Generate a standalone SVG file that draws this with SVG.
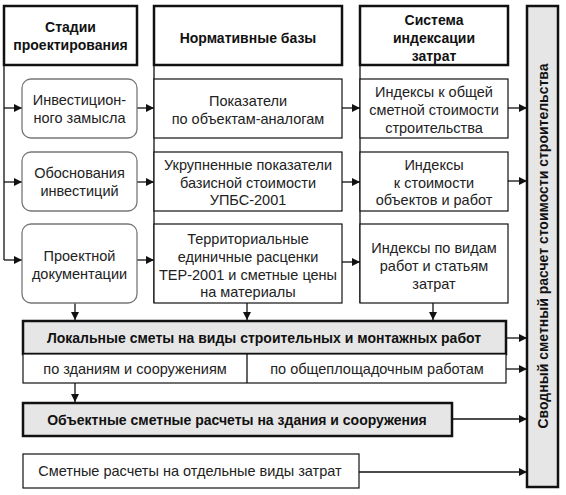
<svg xmlns="http://www.w3.org/2000/svg" width="566" height="495" viewBox="0 0 566 495">
<defs>
<marker id="ah" viewBox="0 0 10 10" refX="10" refY="5" markerWidth="10" markerHeight="8" markerUnits="userSpaceOnUse" orient="auto">
<path d="M0,0 L10,5 L0,10 Z" fill="#111"/>
</marker>
<style>
.thick{fill:#fff;stroke:#111;stroke-width:2.5}
.gray{fill:#e6e6e6;stroke:#111;stroke-width:2.5}
.thin{fill:#fff;stroke:#111;stroke-width:1.2}
.round{fill:#fff;stroke:#777;stroke-width:1.3}
.ln{fill:none;stroke:#111;stroke-width:1.3}
.ar{fill:none;stroke:#111;stroke-width:1.3;marker-end:url(#ah)}
text{font-family:"Liberation Sans",Arial,sans-serif;font-size:14.5px;fill:#222;text-anchor:middle;dominant-baseline:central}
.b{font-weight:bold;font-size:14px;fill:#111}
</style>
</defs>
<rect x="0" y="0" width="566" height="495" fill="#fff"/>

<g id="connectors">
<line class="ln" x1="4" y1="65" x2="4" y2="260"/>
<line class="ln" x1="154" y1="65" x2="154" y2="303"/>
<line class="ln" x1="360" y1="65" x2="360" y2="303"/>
<line class="ar" x1="4" y1="108" x2="22" y2="108"/>
<line class="ar" x1="4" y1="182" x2="22" y2="182"/>
<line class="ar" x1="4" y1="260" x2="22" y2="260"/>
<line class="ar" x1="137" y1="108" x2="154" y2="108"/>
<line class="ar" x1="137" y1="182" x2="154" y2="182"/>
<line class="ar" x1="137" y1="260" x2="154" y2="260"/>
<line class="ar" x1="342" y1="108" x2="360" y2="108"/>
<line class="ar" x1="342" y1="182" x2="360" y2="182"/>
<line class="ar" x1="342" y1="262" x2="360" y2="262"/>
<line class="ar" x1="508" y1="108" x2="527" y2="108"/>
<line class="ar" x1="508" y1="181" x2="527" y2="181"/>
<line class="ar" x1="75" y1="303" x2="75" y2="320"/>
<line class="ar" x1="247" y1="303" x2="247" y2="320"/>
<line class="ar" x1="433" y1="303" x2="433" y2="320"/>
<line class="ar" x1="506" y1="338" x2="527" y2="338"/>
<line class="ar" x1="506" y1="369" x2="527" y2="369"/>
<line class="ar" x1="75" y1="383" x2="75" y2="402"/>
<line class="ar" x1="452" y1="419" x2="527" y2="419"/>
<line class="ar" x1="359" y1="472" x2="527" y2="472"/>
</g>

<g id="h1"><rect class="thick" x="4" y="6" width="133" height="59"/>
<text class="b" x="70.5" y="27">Стадии</text><text class="b" x="70.5" y="45">проектирования</text></g>
<g id="h2"><rect class="thick" x="154" y="6" width="188" height="59"/>
<text class="b" x="248" y="38">Нормативные базы</text></g>
<g id="h3"><rect class="thick" x="360" y="6" width="148" height="59"/>
<text class="b" x="434" y="20">Система</text><text class="b" x="434" y="38">индексации</text><text class="b" x="434" y="56">затрат</text></g>

<g id="s1"><rect class="round" x="22" y="79" width="115" height="59" rx="9"/>
<text x="79.5" y="100">Инвестицион-</text><text x="79.5" y="118">ного замысла</text></g>
<g id="s2"><rect class="round" x="22" y="152" width="115" height="59" rx="9"/>
<text x="79.5" y="173">Обоснования</text><text x="79.5" y="191">инвестиций</text></g>
<g id="s3"><rect class="round" x="22" y="224" width="115" height="79" rx="9"/>
<text x="79.5" y="256">Проектной</text><text x="79.5" y="274">документации</text></g>

<g id="n1"><rect class="thin" x="154" y="79" width="188" height="59"/>
<text x="248" y="101">Показатели</text><text x="248" y="119">по объектам-аналогам</text></g>
<g id="n2"><rect class="thin" x="154" y="152" width="188" height="59"/>
<text x="248" y="165">Укрупненные показатели</text><text x="248" y="183">базисной стоимости</text><text x="248" y="200">УПБС-2001</text></g>
<g id="n3"><rect class="thin" x="154" y="224" width="188" height="79"/>
<text x="248" y="239">Территориальные</text><text x="248" y="257">единичные расценки</text><text x="248" y="275">ТЕР-2001 и сметные цены</text><text x="248" y="292">на материалы</text></g>

<g id="i1"><rect class="thin" x="360" y="79" width="148" height="59"/>
<text x="434" y="92">Индексы к общей</text><text x="434" y="110">сметной стоимости</text><text x="434" y="128">строительства</text></g>
<g id="i2"><rect class="thin" x="360" y="152" width="148" height="59"/>
<text x="434" y="165">Индексы</text><text x="434" y="183">к стоимости</text><text x="434" y="200">объектов и работ</text></g>
<g id="i3"><rect class="thin" x="360" y="224" width="148" height="79"/>
<text x="434" y="248">Индексы по видам</text><text x="434" y="266">работ и статьям</text><text x="434" y="284">затрат</text></g>

<g id="local"><rect class="gray" x="23" y="321" width="483" height="33"/>
<text class="b" x="264" y="338">Локальные сметы на виды строительных и монтажных работ</text></g>
<g id="sub"><rect class="thin" x="23" y="354" width="483" height="29"/>
<line class="ln" x1="247" y1="354" x2="247" y2="383"/>
<text x="135" y="369">по зданиям и сооружениям</text><text x="377" y="369">по общеплощадочным работам</text></g>
<g id="object"><rect class="gray" x="23" y="403" width="429" height="33"/>
<text class="b" x="237" y="420">Объектные сметные расчеты на здания и сооружения</text></g>
<g id="separate"><rect class="thin" x="23" y="454" width="336" height="34"/>
<text x="190" y="471">Сметные расчеты на отдельные виды затрат</text></g>

<g id="summary"><rect class="gray" x="527" y="6" width="31" height="481"/>
<text class="b" transform="translate(543,246) rotate(-90)" x="0" y="0">Сводный сметный расчет стоимости строительства</text></g>
</svg>
